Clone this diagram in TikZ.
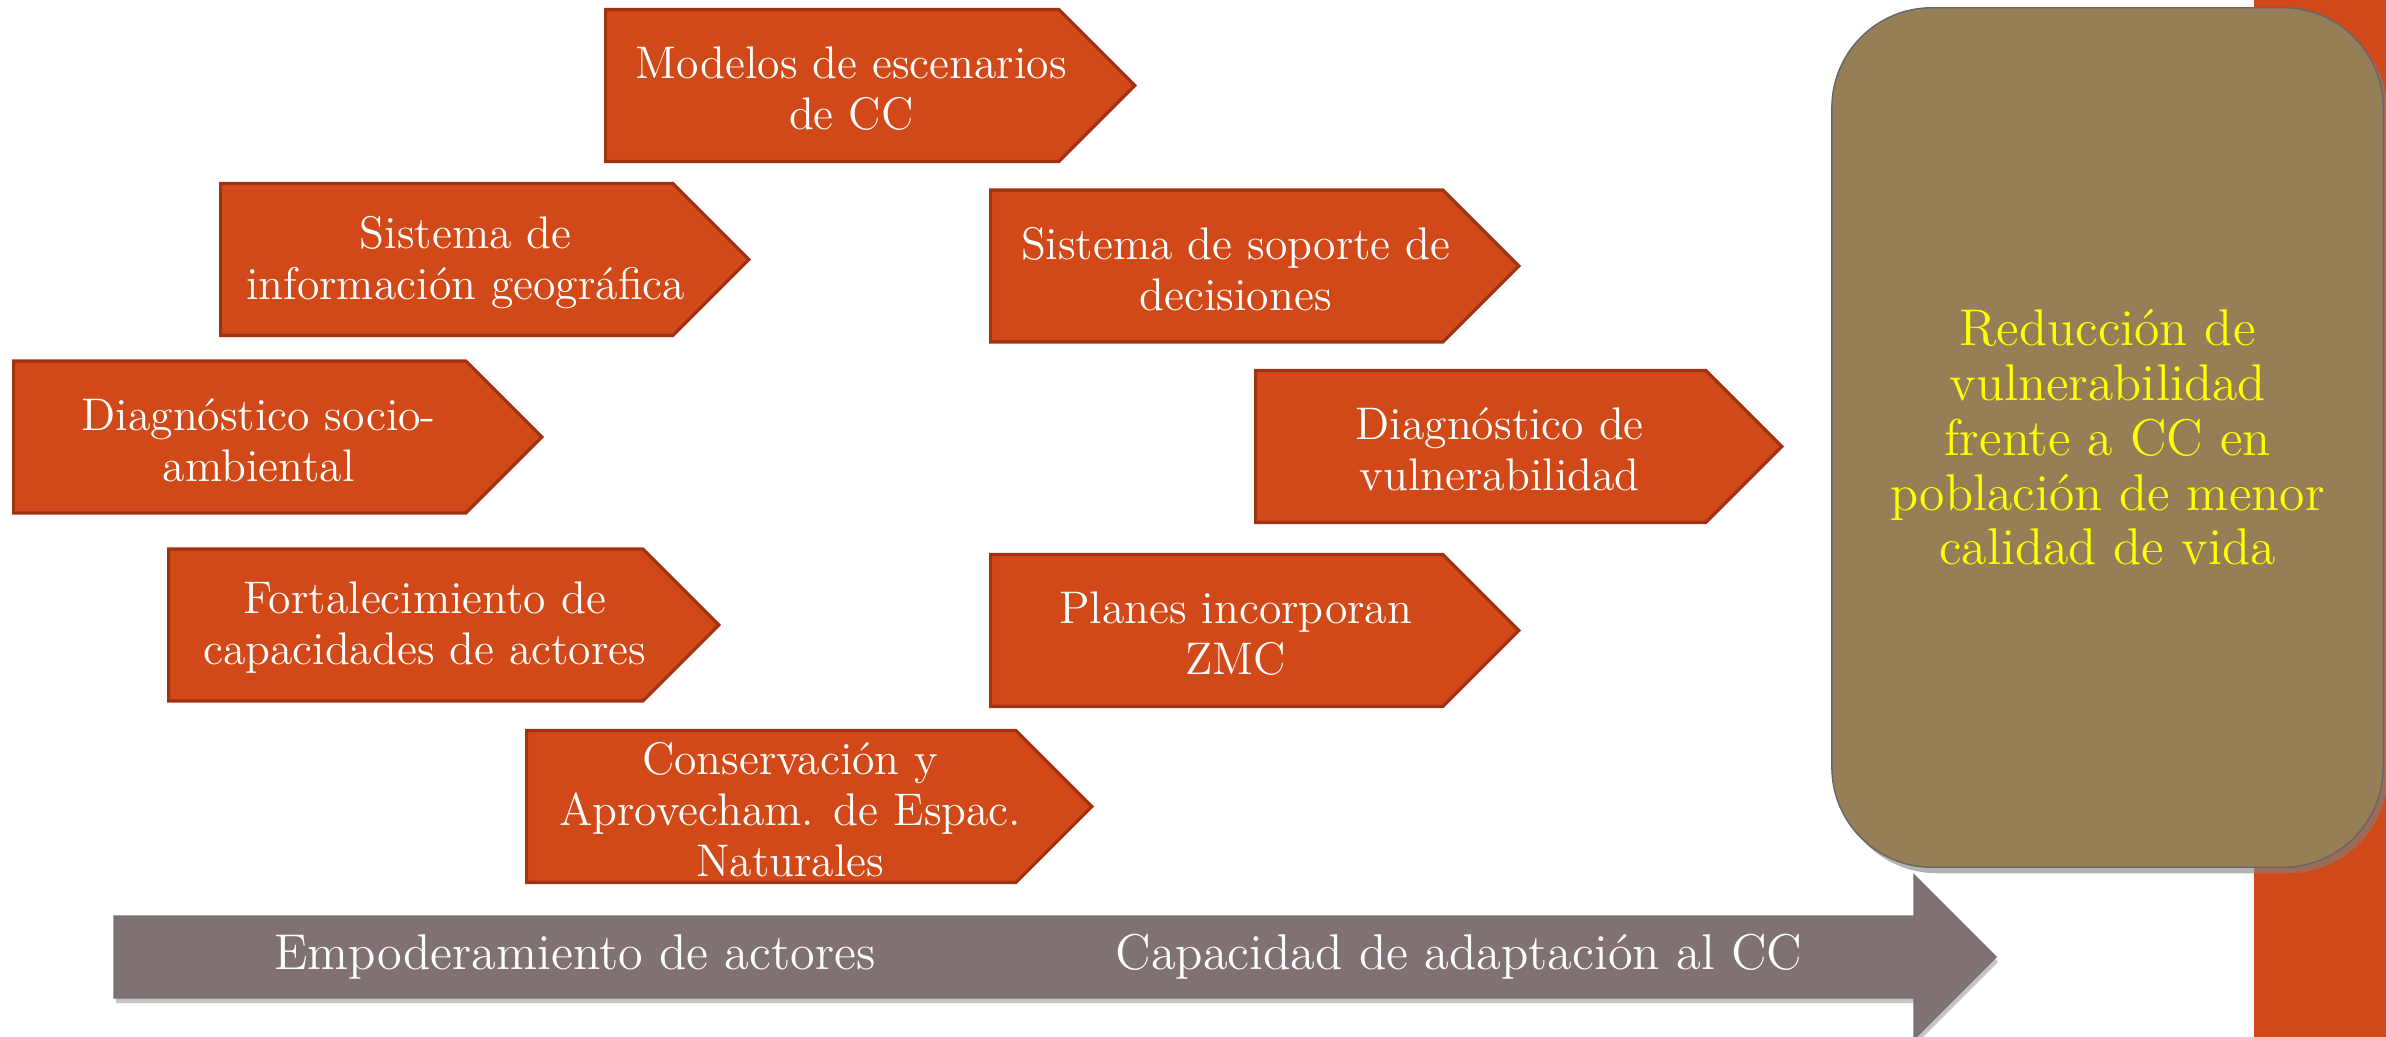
\documentclass[tikz,border=0pt]{standalone}
\usetikzlibrary{shapes.symbols,shadows}
\definecolor{naranja}{RGB}{209,73,24}
\definecolor{borde}{RGB}{160,50,18}
\definecolor{cafe}{RGB}{150,126,87}
\definecolor{gris}{RGB}{128,113,114}
\definecolor{amarillo}{RGB}{255,255,0}
\begin{document}
\begin{tikzpicture}[x=0.01cm,y=-0.01cm,
  caja/.style={signal, signal to=east, signal pointer angle=90, fill=naranja, draw=borde,
    line width=0.9pt, minimum height=1.52cm, inner sep=0pt, anchor=west,
    label={[rotulo]center:#1}},
  rotulo/.style={text=white, align=center, xshift=0.19cm, yshift=-0.03cm,
    font=\fontsize{13}{14.5}\selectfont},
  meta/.style={rectangle, rounded corners=1cm, fill=cafe, draw=black!60, line width=0.4pt,
    minimum width=5.51cm, minimum height=8.59cm, text=amarillo, align=center,
    font=\fontsize{14.7}{15.6}\selectfont,
    drop shadow={shadow xshift=0.05cm, shadow yshift=-0.06cm, opacity=0.6}},
  eje/.style={text=white, font=\fontsize{14.3}{16}\selectfont}]
  \useasboundingbox (0,0) rectangle (2386,1037);
  \fill[naranja] (2254,0) rectangle (2386,1037);
  \node[caja={Modelos de escenarios\\de CC}, minimum width=5.29cm] (modelos) at (604,85.5) {};
  \node[caja={Sistema de\\información geográfica}, minimum width=5.28cm] (sig) at (219,259.5) {};
  \node[caja={Sistema de soporte de\\decisiones}, minimum width=5.28cm] (soporte) at (989,266) {};
  \node[caja={Diagnóstico socio-\\ambiental}, minimum width=5.28cm] (socio) at (12,437) {};
  \node[caja={Diagnóstico de\\vulnerabilidad}, minimum width=5.26cm] (vulnera) at (1254,446.5) {};
  \node[caja={Fortalecimiento de\\capacidades de actores}, minimum width=5.50cm] (fortal) at (167,625) {};
  \node[caja={Planes incorporan\\ZMC}, minimum width=5.28cm] (planes) at (989,630.5) {};
  \node[caja={Conservación y\\Aprovecham. de Espac.\\Naturales}, minimum width=5.65cm] (conserva) at (525,806.5) {};
  \node[meta] (reduccion) at (2107.5,437.5) {Reducción de\\vulnerabilidad\\frente a CC en\\población de menor\\calidad de vida};
  \coordinate (c1) at (114,916);
  \coordinate (c2) at (1914,916);
  \coordinate (c3) at (1914,875);
  \coordinate (punta) at (1996,957);
  \coordinate (c4) at (1914,1039);
  \coordinate (c5) at (1914,998);
  \coordinate (c6) at (114,998);
  \draw[fill=gris, draw=black!55, line width=0.4pt,
    drop shadow={shadow xshift=0.02cm, shadow yshift=-0.05cm, opacity=0.45}]
    (c1) -- (c2) -- (c3) -- (punta) -- (c4) -- (c5) -- (c6) -- cycle;
  \node[eje] (empo) at (575,957) {Empoderamiento de actores};
  \node[eje] (adapta) at (1459,957) {Capacidad de adaptación al CC};
\end{tikzpicture}
\end{document}
